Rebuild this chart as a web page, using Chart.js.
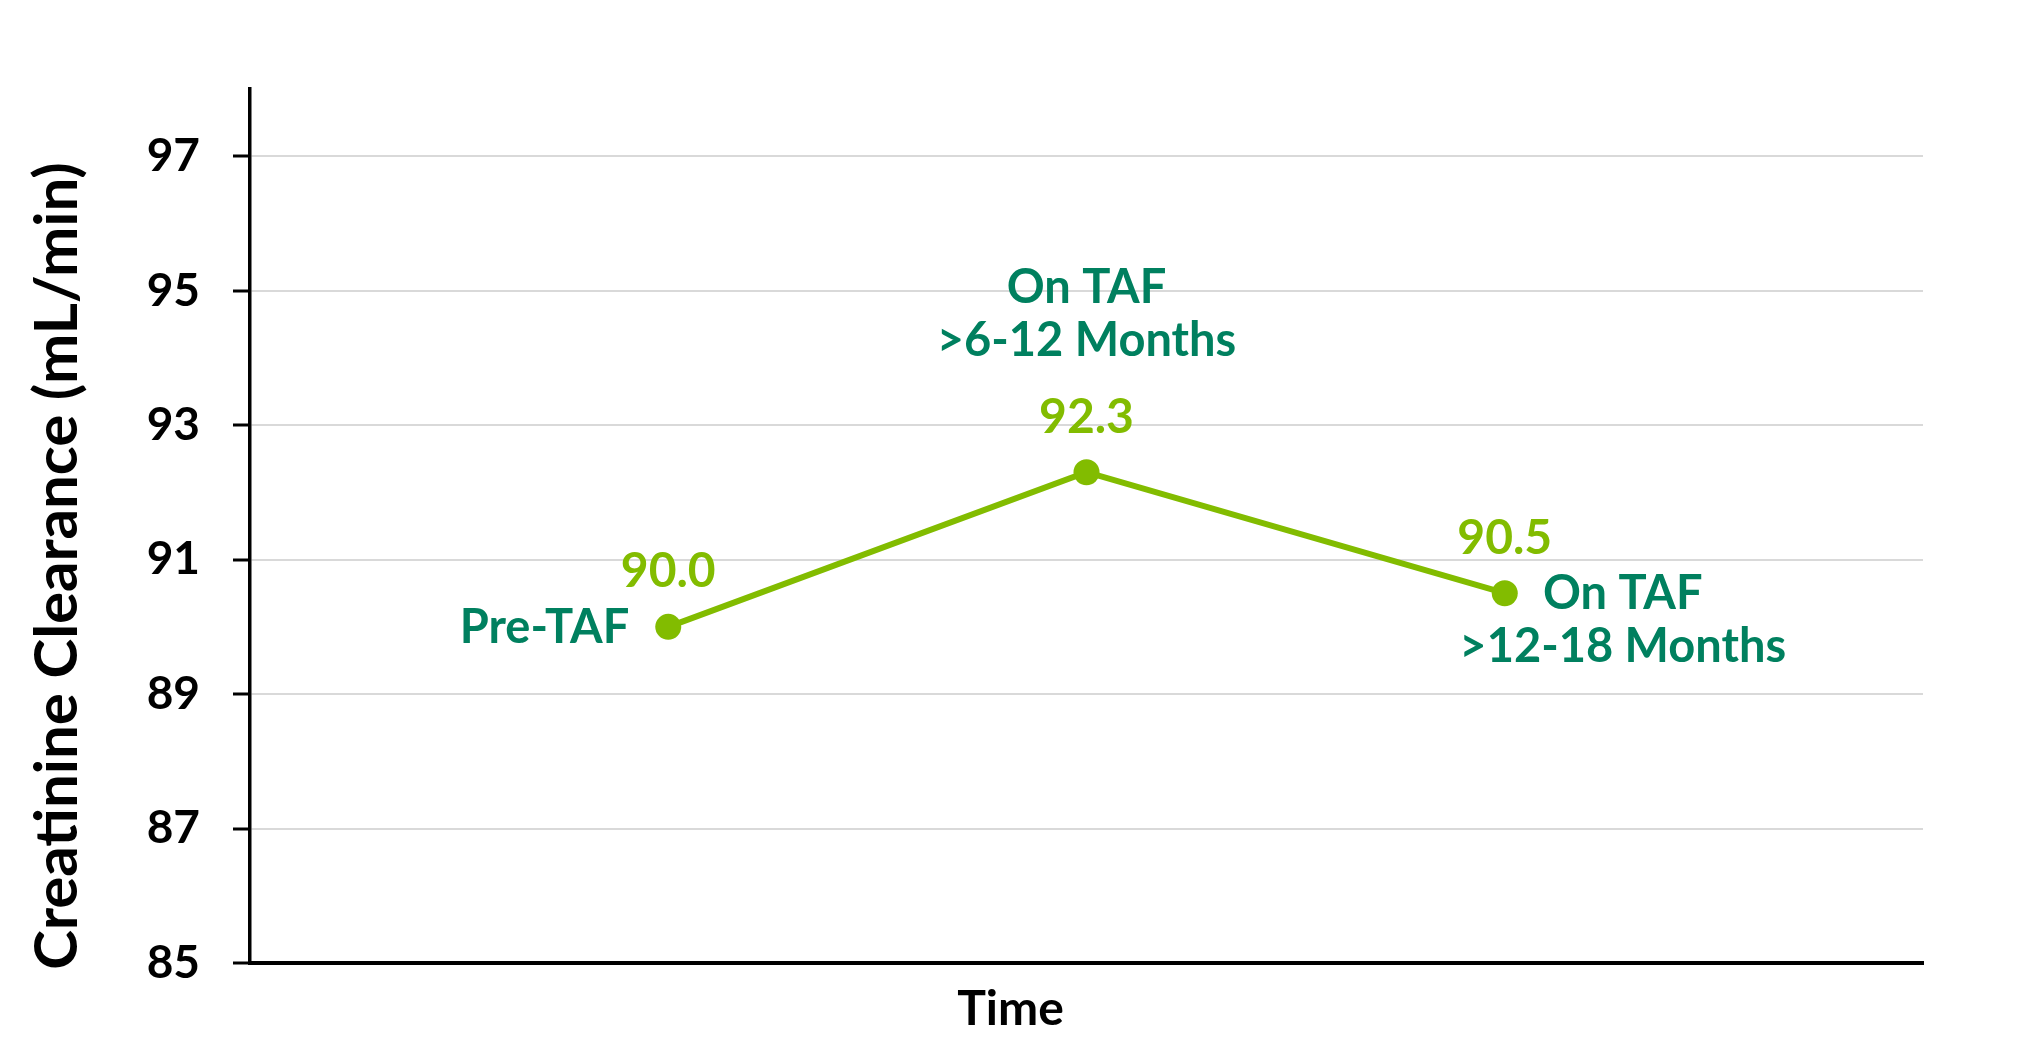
<!DOCTYPE html>
<html>
<head>
<meta charset="utf-8">
<script src="https://cdn.jsdelivr.net/npm/chart.js@4/dist/chart.umd.min.js"></script>
<style>
  html, body { margin: 0; padding: 0; background: #ffffff; }
  #wrap { width: 2033px; height: 1059px; }
</style>
</head>
<body>
<div id="wrap"><canvas id="chart" width="2033" height="1059"></canvas></div>
<script>
// Time points along the x axis and their creatinine clearance values (mL/min)
const categories = [
  ['Pre-TAF'],
  ['On TAF', '>6-12 Months'],
  ['On TAF', '>12-18 Months']
];
const timePositions = [1, 2, 3];
const clearance = [90.0, 92.3, 90.5];
const yTickValues = [85, 87, 89, 91, 93, 95, 97];
const xTitle = 'Time';
const yTitle = 'Creatinine Clearance (mL/min)';

const LIME = '#82BC00';
const TEAL = '#00805F';
const FONT = 'Lato, "Open Sans", sans-serif';

// Draws the value above each point and the time-point caption beside it
const pointLabels = {
  id: 'pointLabels',
  afterDatasetsDraw(chart, args, opts) {
    const ctx = chart.ctx;
    const meta = chart.getDatasetMeta(0);
    ctx.save();
    ctx.textBaseline = 'middle';
    meta.data.forEach((pt, i) => {
      ctx.font = 'bold 48px ' + FONT;
      ctx.fillStyle = LIME;
      ctx.textAlign = 'center';
      ctx.fillText(clearance[i].toFixed(1), pt.x, pt.y + opts.valueOffset);
      const place = opts.placement[i];
      ctx.font = 'bold 47px ' + FONT;
      ctx.fillStyle = TEAL;
      ctx.textAlign = place.align;
      categories[i].forEach((line, j) => {
        ctx.fillText(line, pt.x + place.dx, pt.y + place.dy + j * opts.lineGap);
      });
    });
    ctx.restore();
  }
};

// Axis titles: the value-axis title sits left of the ticks, "Time" under the axis
const axisTitles = {
  id: 'axisTitles',
  afterDraw(chart) {
    const ctx = chart.ctx;
    const area = chart.chartArea;
    ctx.save();
    ctx.fillStyle = '#000000';
    ctx.textAlign = 'center';
    ctx.textBaseline = 'middle';
    ctx.font = 'bold 48px ' + FONT;
    ctx.fillText(xTitle, chart.width / 2 - 6, area.bottom + 47);
    ctx.translate(58, area.bottom - 397);
    ctx.rotate(-Math.PI / 2);
    ctx.font = 'bold 60px ' + FONT;
    ctx.fillText(yTitle, 0, 0);
    ctx.restore();
  }
};

new Chart(document.getElementById('chart'), {
  type: 'line',
  data: {
    datasets: [{
      data: timePositions.map((x, i) => ({ x: x, y: clearance[i] })),
      borderColor: LIME,
      borderWidth: 6,
      backgroundColor: LIME,
      pointRadius: 13,
      pointBackgroundColor: LIME,
      pointBorderWidth: 0,
      tension: 0,
      fill: false
    }]
  },
  options: {
    responsive: false,
    animation: false,
    events: [],
    layout: { padding: { top: 89, right: 110, left: 0, bottom: 96 } },
    plugins: {
      legend: { display: false },
      tooltip: { enabled: false },
      title: { display: false },
      pointLabels: {
        valueOffset: -55,
        lineGap: 53,
        placement: [
          { align: 'right', dx: -39, dy: 1 },
          { align: 'center', dx: 0, dy: -184 },
          { align: 'center', dx: 118, dy: 1 }
        ]
      }
    },
    scales: {
      x: {
        type: 'linear',
        min: 0,
        max: 4,
        ticks: { display: false },
        grid: { display: false, drawTicks: false },
        border: { display: true, color: '#000000', width: 4 },
        afterFit(scale) { scale.height = 0; }
      },
      y: {
        min: 85,
        max: 98,
        afterBuildTicks(scale) {
          scale.ticks = yTickValues.map(v => ({ value: v }));
        },
        afterFit(scale) { scale.width = 250; },
        ticks: {
          color: '#000000',
          padding: 33,
          font: { family: FONT, size: 46, weight: 'bold' }
        },
        grid: {
          color: '#D9D9D9',
          lineWidth: 2,
          tickColor: '#000000',
          tickWidth: 3,
          tickLength: 17
        },
        border: { display: true, color: '#000000', width: 3.5 },
        title: { display: false }
      }
    }
  },
  plugins: [pointLabels, axisTitles]
});
</script>
</body>
</html>
